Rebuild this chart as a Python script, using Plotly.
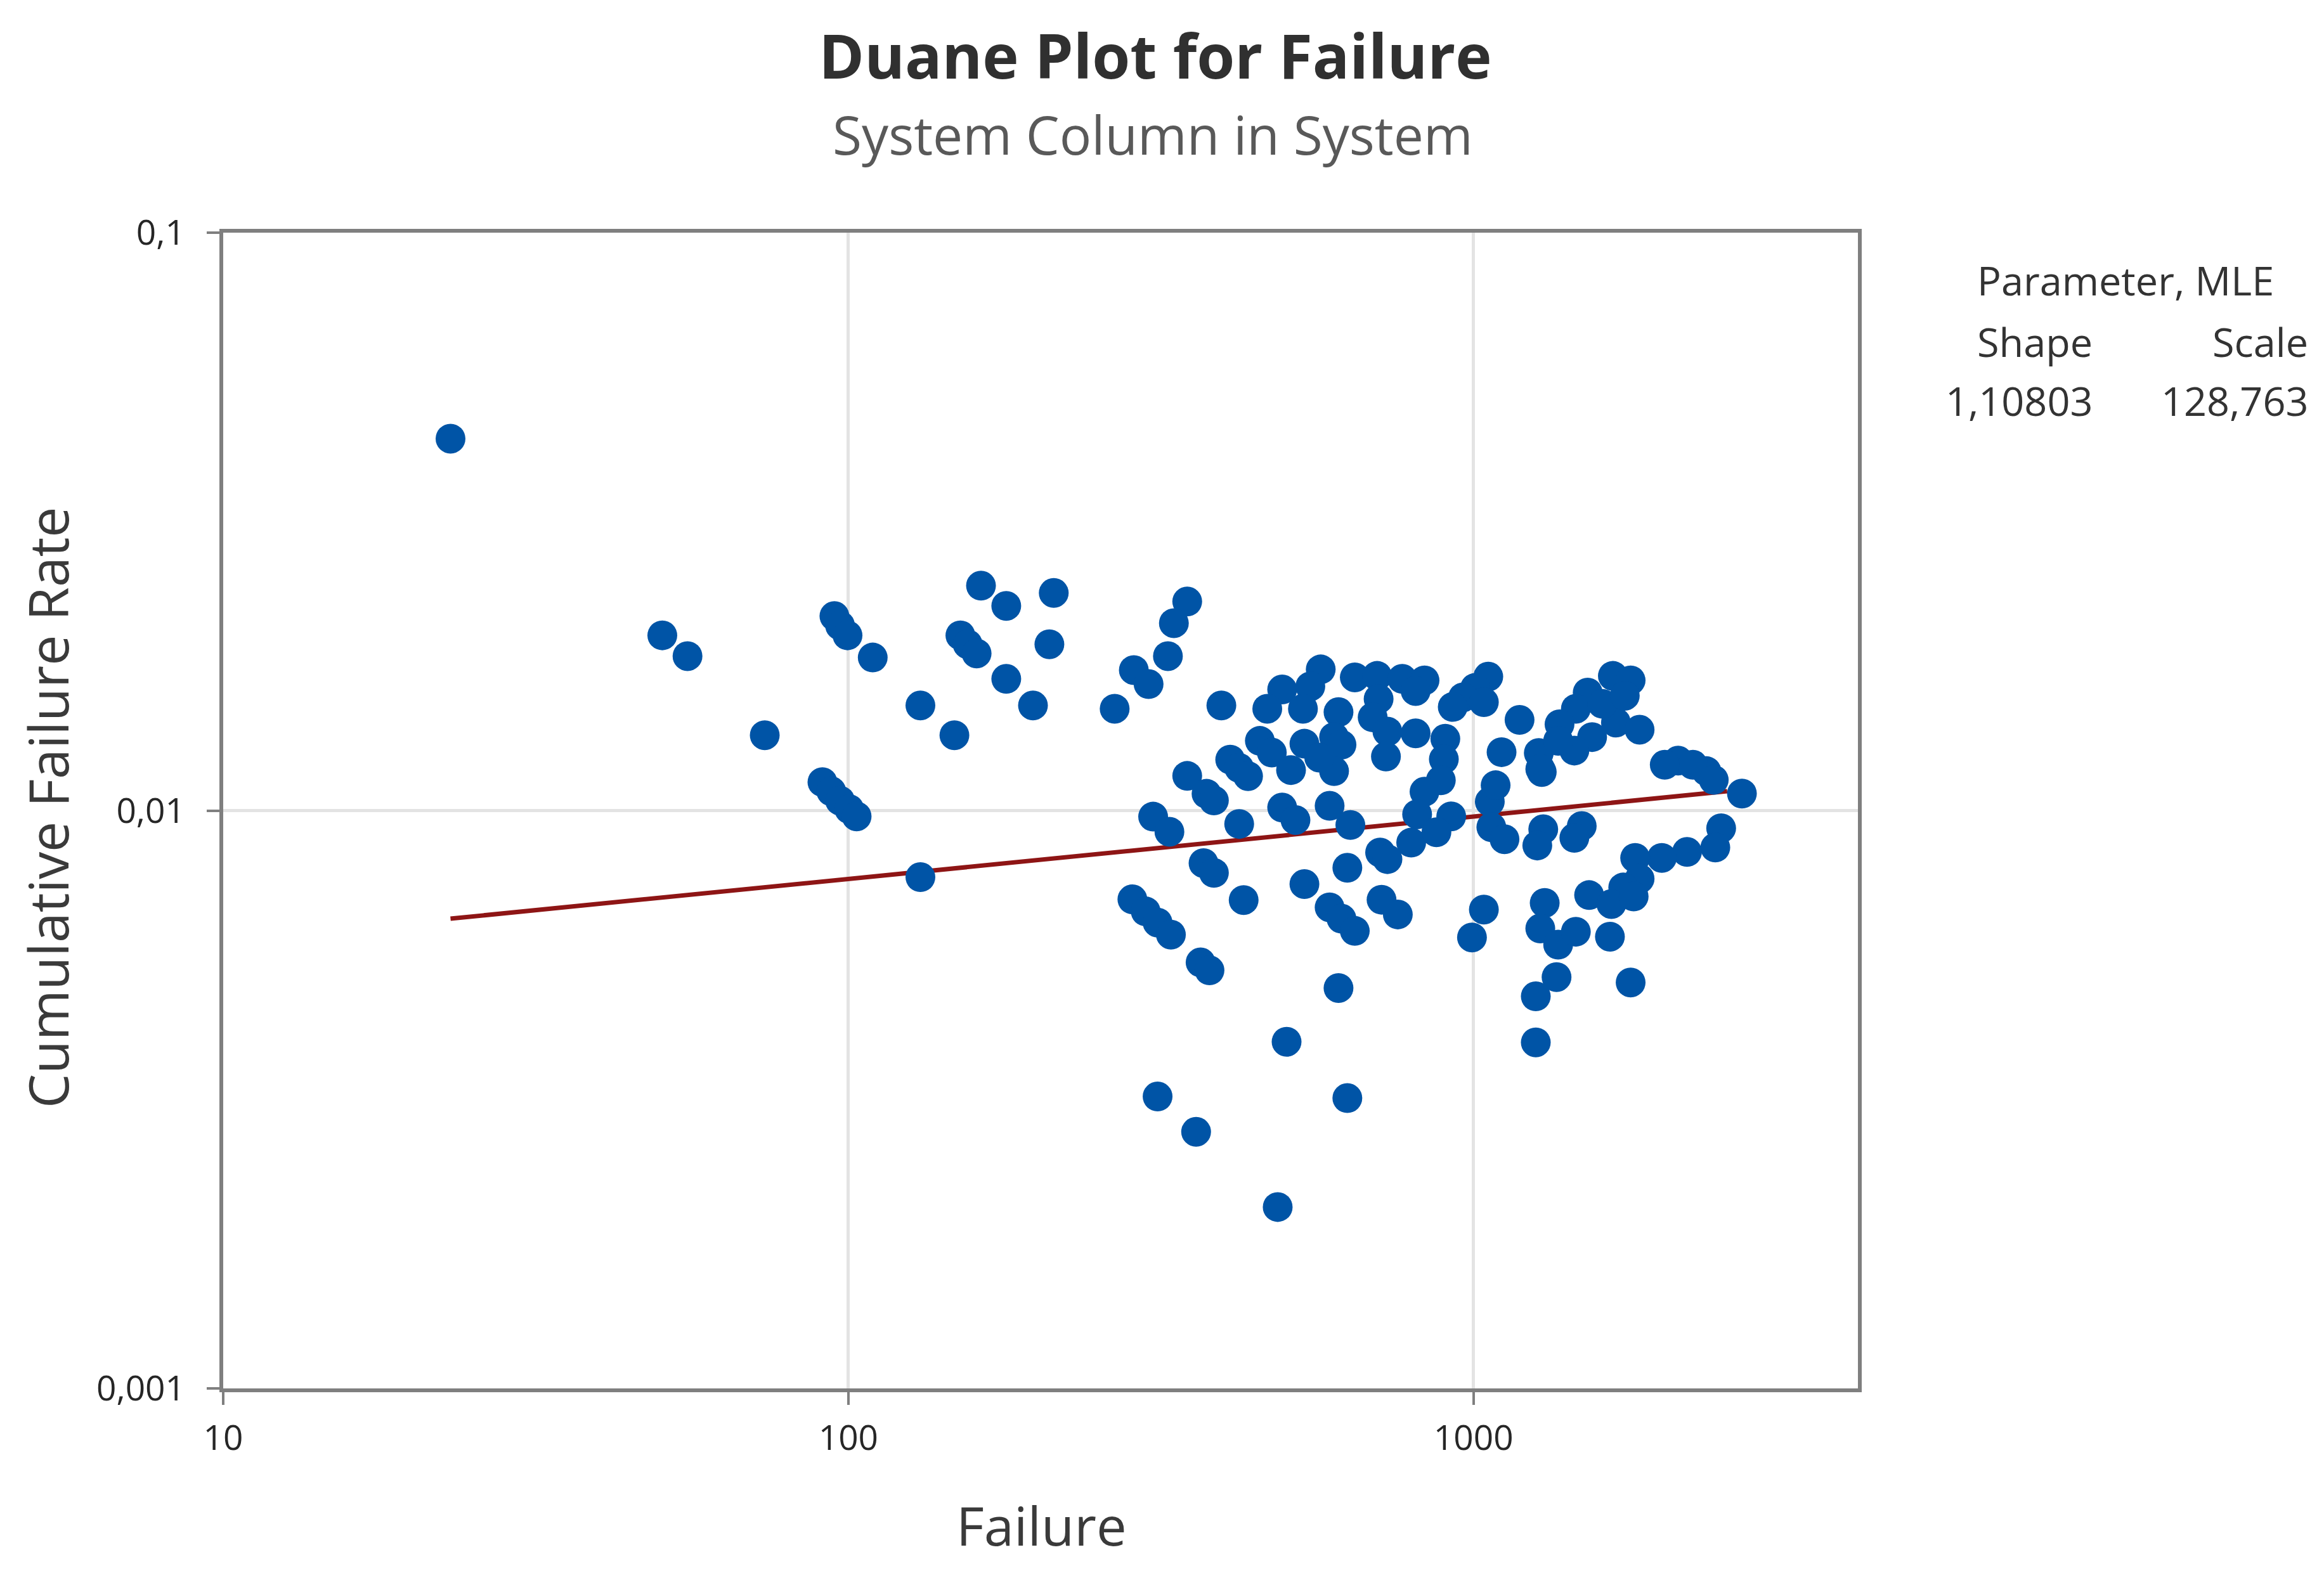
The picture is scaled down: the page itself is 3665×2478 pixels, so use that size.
import plotly.graph_objects as go

# ---- data ----
failure_time = [
    23.1, 50.4, 55.3, 73.5, 90.9, 93.9, 97.0, 100.3, 103.1, 95.0, 97.0, 99.7, 109.4,
    130.4, 147.8, 130.4, 163.0, 178.9, 213.1, 209.7, 151.1, 155.2, 160.4, 178.9, 197.4,
    348.4, 331.7, 324.5, 286.2, 302.2, 266.7, 395.1,
    569.7, 548.3, 494.3, 467.9, 533.6, 608.3,
    645.9, 701.3, 769.3, 835.0, 808.1, 705.1,
    689.8, 728.4, 808.1, 724.4, 455.3, 475.8,
    536.5, 598.4, 615.0, 510.7, 598.4, 566.6,
    408.2, 421.9, 435.9, 348.4, 374.1, 384.4, 494.3, 519.1, 588.7, 307.3, 326.3, 421.9, 635.4,
    901.5, 896.6, 886.7, 835.0, 812.6, 921.3, 795.0, 872.4,
    370.0, 384.4, 709.0, 728.4, 628.4, 536.5, 428.9,
    284.7, 299.0, 312.4, 328.1, 588.7, 615.0, 645.9, 712.8, 756.8,
    366.0, 378.2, 608.3, 502.4, 312.4, 360.0, 628.4, 486.2,
    1056, 1006, 962.5, 926.5, 1039, 1185, 1109, 1272, 1062, 1085, 1286, 1068, 1121,
    1293, 1490, 1265, 1450,
    1671, 1784, 1523, 1458, 1373, 1690, 1844, 1548, 1450, 1279, 1608, 1366, 1746,
    2125, 2358, 2244, 2023, 2423, 2688,
    2490, 2437, 2196, 2001, 1814, 1844, 1736, 1531, 1662, 1804,
    1039, 994.5, 1300, 1279, 1366, 1458, 1358, 1258, 1653, 1784, 1258,
]
cum_failure_rate = [
    0.0440, 0.0201, 0.0185, 0.0135, 0.0112, 0.0108, 0.0104, 0.01006, 0.00977, 0.0217, 0.0209, 0.0201, 0.0184,
    0.0152, 0.0135, 0.00767, 0.0245, 0.0226, 0.0238, 0.0194, 0.0201, 0.0194, 0.0187, 0.0169, 0.0152,
    0.0230, 0.0211, 0.0185, 0.0175, 0.01655, 0.0150, 0.0152,
    0.01755, 0.0164, 0.0162, 0.0150, 0.0150, 0.0148,
    0.0170, 0.0171, 0.0169, 0.0168, 0.0161, 0.0156,
    0.0145, 0.0137, 0.0136, 0.0124, 0.0132, 0.0126,
    0.01305, 0.0134, 0.0130, 0.01175, 0.0117, 0.01235,
    0.01225, 0.01185, 0.01147, 0.01148, 0.01069, 0.01041, 0.01012, 0.00963, 0.01019, 0.00976, 0.00919, 0.00948, 0.00944,
    0.01331, 0.01227, 0.01128, 0.01078, 0.00985, 0.00977, 0.0088, 0.00917,
    0.00811, 0.0078, 0.00846, 0.00824, 0.00796, 0.00746, 0.0070,
    0.00702, 0.00669, 0.0064, 0.0061, 0.0068, 0.0065, 0.00619, 0.00701, 0.00661,
    0.00546, 0.00529, 0.00493, 0.00398, 0.0032, 0.00278, 0.00318, 0.00206,
    0.01705, 0.0163, 0.0157, 0.01511, 0.0154, 0.01435, 0.01262, 0.01258, 0.01036, 0.01106, 0.01166, 0.00936, 0.00892,
    0.00928, 0.0094, 0.0087, 0.00897,
    0.0171, 0.0168, 0.0160, 0.0150, 0.0141, 0.0142, 0.0138, 0.0134, 0.0127, 0.0118, 0.0153, 0.0132, 0.0158,
    0.0122, 0.0117, 0.0120, 0.0120, 0.0113, 0.0107,
    0.00932, 0.00863, 0.00848, 0.00828, 0.00828, 0.00762, 0.00736, 0.00714, 0.00689, 0.0071,
    0.00674, 0.00603, 0.00692, 0.00625, 0.00586, 0.00617, 0.00515, 0.00477, 0.00605, 0.00504, 0.00397,
]
fit_time = [23.1, 2546]
fit_rate = [0.0065, 0.0108]

x_tickvals = [10, 100, 1000]
x_ticktext = ["10", "100", "1000"]
y_tickvals = [0.001, 0.01, 0.1]
y_ticktext = ["0,001", "0,01", "0,1"]

table_header = "Parameter, MLE"
table_cols = ["Shape", "Scale"]
table_vals = ["1,10803", "128,763"]

FONT = "Open Sans"
BLUE = "#0054A6"
RED = "#8E1515"
AXIS = "#7F7F7F"
GRID = "#E3E3E3"

# page has an 8px body margin: figure origin sits at (8, 8) of the page
OFF = 8
FIG_W, FIG_H = 3665 - 2 * OFF, 2478 - 2 * OFF
# plot area in page pixels
L, R, T, B = 352, 2930, 367, 2190
W, H = R - L, B - T


def px(xp):
    return (xp - L) / W


def py(yp):
    return (B - yp) / H


fig = go.Figure()
fig.add_trace(go.Scatter(x=fit_time, y=fit_rate, mode="lines",
                         line=dict(color=RED, width=7), hoverinfo="skip"))
fig.add_trace(go.Scatter(x=failure_time, y=cum_failure_rate, mode="markers",
                         marker=dict(color=BLUE, size=47, line=dict(width=0))))

axis_common = dict(
    showgrid=True, gridcolor=GRID, gridwidth=5,
    showline=True, linecolor=AXIS, linewidth=6, mirror=True,
    ticks="outside", ticklen=20, tickwidth=4, tickcolor=AXIS,
    tickfont=dict(family=FONT, size=55, color="#262626"),
    zeroline=False,
)

fig.update_layout(
    width=FIG_W, height=FIG_H,
    margin=dict(l=L - OFF, r=FIG_W - (R - OFF), t=T - OFF, b=FIG_H - (B - OFF)),
    paper_bgcolor="white", plot_bgcolor="white",
    showlegend=False,
    title=dict(text="<b>Duane Plot for Failure</b>", x=(1822 - OFF) / FIG_W, xref="container",
               xanchor="center", y=1 - (90 - OFF) / FIG_H, yref="container", yanchor="middle",
               font=dict(family=FONT, size=97, color="#303030")),
    xaxis=dict(type="log", range=[1, 3.615], tickvals=x_tickvals, ticktext=x_ticktext,
               ticklabelstandoff=5, **axis_common),
    yaxis=dict(type="log", range=[-3, -1], tickvals=y_tickvals, ticktext=y_ticktext,
               ticklabelstandoff=23, **axis_common),
)

ann = []
ann.append(dict(text="System Column in System", x=px(1818), y=py(212), xref="paper", yref="paper",
                xanchor="center", yanchor="middle", showarrow=False,
                font=dict(family=FONT, size=84, color="#595959")))
ann.append(dict(text="Failure", x=px(1642), y=py(2405), xref="paper", yref="paper",
                xanchor="center", yanchor="middle", showarrow=False,
                font=dict(family=FONT, size=85, color="#3A3A3A")))
ann.append(dict(text="Cumulative Failure Rate", x=px(74), y=py(1274), xref="paper", yref="paper",
                xanchor="center", yanchor="middle", showarrow=False, textangle=-90,
                font=dict(family=FONT, size=86, color="#3A3A3A")))
tfont = dict(family=FONT, size=63, color="#333333")
ann.append(dict(text=table_header, x=px(3352), y=py(442), xref="paper", yref="paper",
                xanchor="center", yanchor="middle", showarrow=False, font=tfont))
for xr, c, v in zip([3302, 3642], table_cols, table_vals):
    ann.append(dict(text=c, x=px(xr), y=py(538), xref="paper", yref="paper",
                    xanchor="right", yanchor="middle", showarrow=False, font=tfont))
    ann.append(dict(text=v, x=px(xr), y=py(631), xref="paper", yref="paper",
                    xanchor="right", yanchor="middle", showarrow=False, font=tfont))
fig.update_layout(annotations=ann)

fig.write_html("out.html")
